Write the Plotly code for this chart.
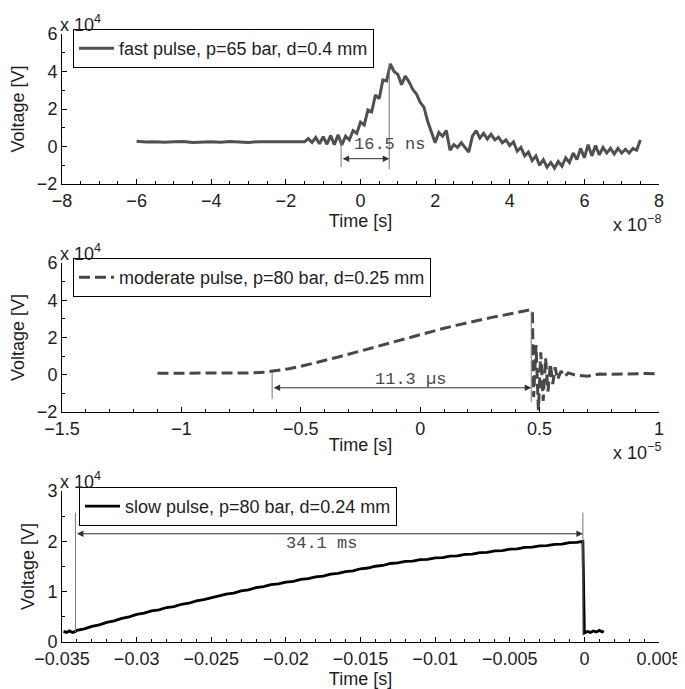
import plotly.graph_objects as go

# ---------------- data ----------------
# fast pulse: time in units of 1e-8 s, voltage in units of 1e4 V
FAST_T = [-6.0, -5.75, -5.5, -5.25, -5.0, -4.75, -4.5, -4.25, -4.0, -3.75, -3.5, -3.25, -3.0,
          -2.75, -2.5, -2.25, -2.0, -1.75, -1.5,
          -1.4, -1.3, -1.2, -1.1, -1.0, -0.9, -0.8, -0.7, -0.6, -0.5, -0.4, -0.3, -0.2, -0.1,
          0.0, 0.1, 0.2, 0.3, 0.4, 0.5, 0.6, 0.7, 0.8, 0.9,
          1.0, 1.1, 1.2, 1.3, 1.4, 1.5, 1.6, 1.7, 1.8, 1.9,
          2.0, 2.1, 2.2, 2.3, 2.4, 2.5, 2.6, 2.7, 2.8, 2.9,
          3.0, 3.1, 3.2, 3.3, 3.4, 3.5, 3.6, 3.7, 3.8, 3.9,
          4.0, 4.1, 4.2, 4.3, 4.4, 4.5, 4.6, 4.7, 4.8, 4.9,
          5.0, 5.1, 5.2, 5.3, 5.4, 5.5, 5.6, 5.7, 5.8, 5.9,
          6.0, 6.1, 6.2, 6.3, 6.4, 6.5, 6.6, 6.7, 6.8, 6.9,
          7.0, 7.1, 7.2, 7.3, 7.4, 7.5]
FAST_V = [0.28, 0.24, 0.26, 0.23, 0.25, 0.27, 0.22, 0.25, 0.26, 0.23, 0.27, 0.24, 0.22,
          0.26, 0.25, 0.27, 0.24, 0.26, 0.25,
          0.42, 0.22, 0.48, 0.15, 0.52, 0.12, 0.58, 0.10, 0.62, 0.08, 0.55, 0.35, 0.85, 0.70,
          1.30, 1.15, 1.95, 1.85, 2.75, 2.55, 3.55, 3.50, 4.40, 4.00,
          3.85, 3.30, 3.75, 3.45, 3.05, 2.80, 2.35, 2.10, 1.35, 0.75,
          0.20, 0.75, 0.55, 0.85, -0.20, 0.10, -0.05, 0.20, -0.05, -0.30,
          0.55, 0.85, 0.45, 0.70, 0.40, 0.65, 0.35, 0.50, 0.20, 0.35,
          0.05, 0.25, -0.25, -0.05, -0.50, -0.30, -0.75, -0.50, -1.00, -0.70,
          -1.10, -0.85, -1.15, -0.80, -1.05, -0.60, -0.85, -0.35, -0.70, -0.10,
          -0.60, 0.10, -0.50, 0.05, -0.45, -0.05, -0.35, -0.10, -0.40, -0.10,
          -0.35, -0.15, -0.35, -0.10, -0.20, 0.35]

# moderate pulse: time in units of 1e-5 s, voltage in units of 1e4 V
MOD_T = [-1.1, -1.0, -0.9, -0.8, -0.7, -0.65, -0.6, -0.55, -0.5, -0.45, -0.4, -0.35, -0.3,
         -0.25, -0.2, -0.15, -0.1, -0.05, 0.0, 0.05, 0.1, 0.15, 0.2, 0.25, 0.3, 0.35, 0.4,
         0.45, 0.465, 0.47, 0.475, 0.485, 0.495, 0.505, 0.515, 0.525, 0.535, 0.545, 0.555,
         0.565, 0.575, 0.59, 0.605, 0.62, 0.65, 0.7, 0.75, 0.8, 0.85, 0.9, 0.95, 1.0]
MOD_V = [0.08, 0.08, 0.08, 0.08, 0.10, 0.14, 0.22, 0.32, 0.45, 0.60, 0.76, 0.93, 1.10,
         1.28, 1.46, 1.64, 1.82, 2.00, 2.17, 2.33, 2.50, 2.65, 2.80, 2.95, 3.08, 3.20, 3.32,
         3.44, 3.50, 3.30, -1.20, 1.60, -1.90, 1.20, -1.40, 0.90, -0.90, 0.60, -0.50,
         0.40, -0.25, 0.20, -0.10, 0.10, -0.02, -0.08, 0.04, 0.02, 0.05, 0.05, 0.07, 0.05]

# slow pulse: time in s, voltage in units of 1e4 V
SLOW_T = [-0.0349, -0.0347, -0.0345, -0.0343, -0.0341,
          -0.034, -0.0335, -0.033, -0.0325, -0.032, -0.0315, -0.031, -0.0305, -0.030, -0.0295,
          -0.029, -0.0285, -0.028, -0.0275, -0.027, -0.0265, -0.026, -0.0255, -0.025, -0.0245,
          -0.024, -0.0235, -0.023, -0.0225, -0.022, -0.0215, -0.021, -0.0205, -0.020, -0.0195,
          -0.019, -0.0185, -0.018, -0.0175, -0.017, -0.0165, -0.016, -0.0155, -0.015, -0.0145,
          -0.014, -0.0135, -0.013, -0.0125, -0.012, -0.0115, -0.011, -0.0105, -0.010, -0.0095,
          -0.009, -0.0085, -0.008, -0.0075, -0.007, -0.0065, -0.006, -0.0055, -0.005, -0.0045,
          -0.004, -0.0035, -0.003, -0.0025, -0.002, -0.0015, -0.001, -0.0005, -0.0001,
          0.0, 0.0002, 0.0004, 0.0006, 0.0008, 0.001, 0.0012, 0.0013]
SLOW_V = [0.21, 0.19, 0.22, 0.19, 0.21,
          0.23, 0.26, 0.31, 0.34, 0.39, 0.42, 0.47, 0.50, 0.55, 0.575,
          0.62, 0.64, 0.685, 0.705, 0.75, 0.77, 0.815, 0.84, 0.88, 0.905,
          0.95, 0.97, 1.015, 1.035, 1.08, 1.10, 1.14, 1.155, 1.19, 1.205,
          1.245, 1.26, 1.295, 1.31, 1.35, 1.365, 1.40, 1.415, 1.455, 1.47,
          1.505, 1.52, 1.56, 1.57, 1.60, 1.605, 1.635, 1.64, 1.67, 1.675,
          1.705, 1.71, 1.74, 1.745, 1.775, 1.78, 1.81, 1.815, 1.845, 1.85,
          1.88, 1.885, 1.91, 1.915, 1.94, 1.945, 1.975, 1.98, 2.00,
          0.18, 0.21, 0.19, 0.22, 0.20, 0.23, 0.20, 0.22]

NAMES = ["fast pulse, p=65 bar, d=0.4 mm",
         "moderate pulse, p=80 bar, d=0.25 mm",
         "slow pulse, p=80 bar, d=0.24 mm"]

# duration markers: [start, end] times, label, label position, marker line extents
FAST_MARK_T = [-0.52, 0.77]
FAST_MARK_V = [[0.40, -1.10], [4.45, -1.22]]
FAST_ARROW_V = -0.65
FAST_LABEL = "16.5 ns"
FAST_LABEL_POS = [0.77, 0.12]

MOD_MARK_T = [-0.62, 0.465]
MOD_MARK_V = [[0.15, -1.30], [3.40, -1.45]]
MOD_ARROW_V = -0.70
MOD_LABEL = "11.3 \u00b5s"
MOD_LABEL_POS = [-0.04, -0.27]

SLOW_MARK_T = [-0.0341, -0.0001]
SLOW_MARK_V = [[2.57, 0.20], [2.57, 0.15]]
SLOW_ARROW_V = 2.15
SLOW_LABEL = "34.1 ms"
SLOW_LABEL_POS = [-0.0176, 1.95]

# ---------------- layout ----------------
FONT = "Liberation Sans, Arial, Helvetica, sans-serif"
MONO = "Liberation Mono, Courier New, monospace"
TXT = "#1e1e1e"
FS = 18
OFF = 8                      # default page body margin
W, H = 685 - OFF, 689 - OFF
ML, MT = 62 - OFF, 34 - OFF
MR = W - (659 - OFF)
MB = H - (642 - OFF)
PW = W - ML - MR
PH = H - MT - MB


def dom(top_px, bot_px):
    # pixel rows in the reference window -> paper fractions
    return [(H - MB - (bot_px - OFF)) / PH, (H - MB - (top_px - OFF)) / PH]


D1 = dom(34, 184)
D2 = dom(263, 412)
D3 = dom(491, 642)

fig = go.Figure()
fig.add_trace(go.Scatter(x=FAST_T, y=FAST_V, mode="lines", name=NAMES[0],
                         line=dict(color="#505050", width=3),
                         xaxis="x", yaxis="y", legend="legend"))
fig.add_trace(go.Scatter(x=MOD_T, y=MOD_V, mode="lines", name=NAMES[1],
                         line=dict(color="#484848", width=3, dash="11px,5px"),
                         xaxis="x2", yaxis="y2", legend="legend2"))
fig.add_trace(go.Scatter(x=SLOW_T, y=SLOW_V, mode="lines", name=NAMES[2],
                         line=dict(color="black", width=2.8),
                         xaxis="x3", yaxis="y3", legend="legend3"))


def ax(**kw):
    d = dict(showline=True, linecolor="black", linewidth=1, ticks="inside", ticklen=5,
             tickcolor="black", showgrid=False, zeroline=False, mirror=False,
             tickfont=dict(size=FS, color=TXT, family=FONT), automargin=False,
             ticklabeloverflow="allow")
    d.update(kw)
    return d


def mn(step):
    return dict(dtick=step, ticklen=3, ticks="inside", tickcolor="black")


def xt():
    return dict(text="Time [s]", font=dict(size=FS, color=TXT, family=FONT), standoff=0)


def yt():
    return dict(text="Voltage [V]", font=dict(size=FS, color=TXT, family=FONT), standoff=8)


layout = dict(
    width=W, height=H, margin=dict(l=ML, r=MR, t=MT, b=MB),
    paper_bgcolor="white", plot_bgcolor="white",
    font=dict(family=FONT, color=TXT, size=FS),
    xaxis=ax(domain=[0, 1], anchor="y", range=[-8, 8], dtick=2, title=xt(), minor=mn(0.5)),
    yaxis=ax(domain=D1, anchor="x", range=[-2, 6], dtick=2, title=yt(), minor=mn(1)),
    xaxis2=ax(domain=[0, 1], anchor="y2", range=[-1.5, 1], dtick=0.5, title=xt(), minor=mn(0.1)),
    yaxis2=ax(domain=D2, anchor="x2", range=[-2, 6], dtick=2, title=yt(), minor=mn(1)),
    xaxis3=ax(domain=[0, 1], anchor="y3", range=[-0.035, 0.005], dtick=0.005, title=xt(),
              minor=mn(0.001)),
    yaxis3=ax(domain=D3, anchor="x3", range=[0, 3], dtick=1, title=yt(), minor=mn(0.5)),
    showlegend=True,
)


def leg(xpx, ytop_px):
    return dict(x=(xpx - OFF - ML) / PW, y=(H - MB - (ytop_px - OFF)) / PH,
                xanchor="left", yanchor="top", bordercolor="black", borderwidth=1,
                bgcolor="white", font=dict(size=FS, color=TXT, family=FONT),
                itemwidth=35)


layout["legend"] = leg(73, 29)
layout["legend2"] = leg(73, 258)
layout["legend3"] = leg(79, 487)
fig.update_layout(**layout)

ann = []
shapes = []
for d, xexp in [(D1, "\u22128"), (D2, "\u22125"), (D3, None)]:
    ann.append(dict(xref="paper", yref="paper", x=0, y=d[1], xanchor="left", yanchor="bottom",
                    text="x 10<sup>4</sup>", showarrow=False, xshift=-4, yshift=-3,
                    font=dict(size=FS, color=TXT, family=FONT)))
    if xexp:
        ann.append(dict(xref="paper", yref="paper", x=1, y=d[0], xanchor="right",
                        yanchor="middle", text="x 10<sup>" + xexp + "</sup>", showarrow=False,
                        yshift=-39, xshift=4, font=dict(size=FS, color=TXT, family=FONT)))

for (xr, yr, mt, mv, av, lab, lp) in [
        ("x", "y", FAST_MARK_T, FAST_MARK_V, FAST_ARROW_V, FAST_LABEL, FAST_LABEL_POS),
        ("x2", "y2", MOD_MARK_T, MOD_MARK_V, MOD_ARROW_V, MOD_LABEL, MOD_LABEL_POS),
        ("x3", "y3", SLOW_MARK_T, SLOW_MARK_V, SLOW_ARROW_V, SLOW_LABEL, SLOW_LABEL_POS)]:
    for t, (v0, v1) in zip(mt, mv):
        shapes.append(dict(type="line", xref=xr, yref=yr, x0=t, x1=t, y0=v0, y1=v1,
                           line=dict(color="#777777", width=1)))
    ann.append(dict(xref=xr, yref=yr, x=mt[1], y=av, ax=mt[0], ay=av, axref=xr, ayref=yr,
                    text="", showarrow=True, arrowhead=2, startarrowhead=2,
                    arrowside="end+start", arrowsize=1.3, startarrowsize=1.3,
                    arrowwidth=1, arrowcolor="#333333", standoff=0, startstandoff=0))
    ann.append(dict(xref=xr, yref=yr, x=lp[0], y=lp[1], text=lab, showarrow=False,
                    font=dict(size=17, color="#4a4a4a", family=MONO)))

fig.update_layout(annotations=ann, shapes=shapes)
fig.write_html("out.html")
